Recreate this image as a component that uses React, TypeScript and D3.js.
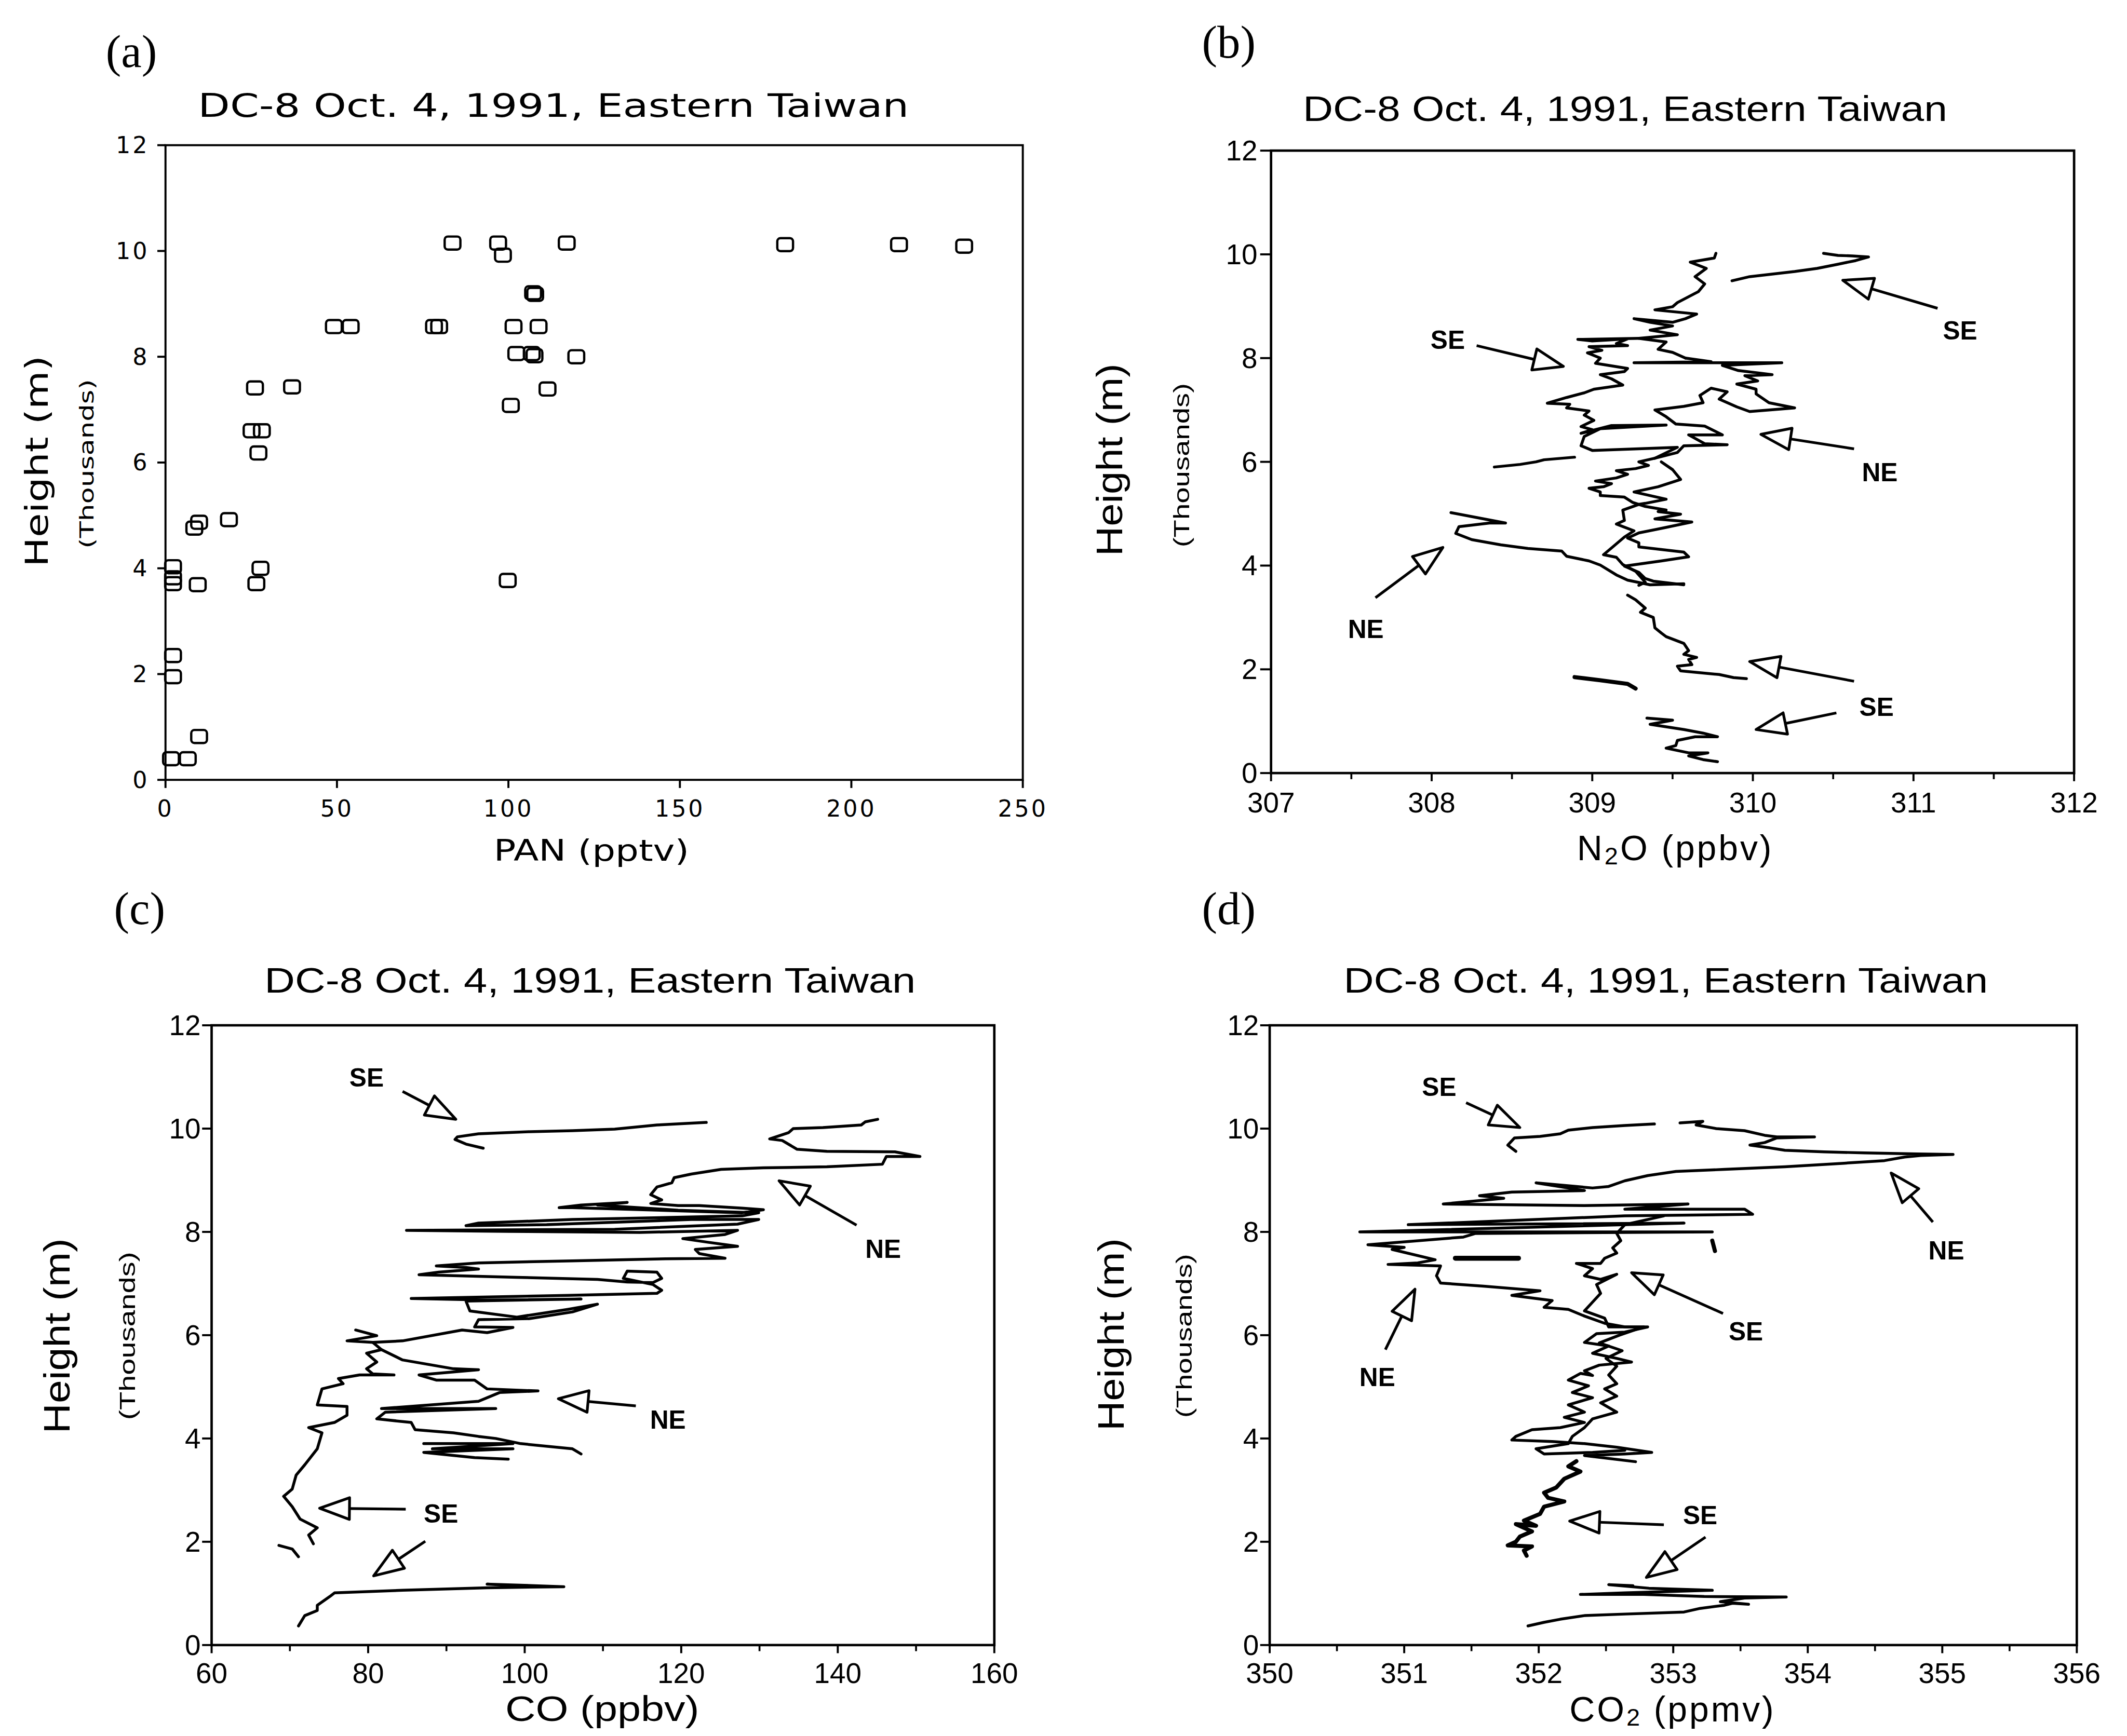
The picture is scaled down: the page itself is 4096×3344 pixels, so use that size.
import React from 'react';
import * as d3 from 'd3';

type P = [number, number];

// ---------- shared text / ticks ----------
const titleText = 'DC-8 Oct. 4, 1991, Eastern Taiwan';
const heightTicks = [0, 2, 4, 6, 8, 10, 12];
const panTicks = [0, 50, 100, 150, 200, 250];
const n2oTicks = [307, 308, 309, 310, 311, 312];
const n2oMinor = [307.5, 308.5, 309.5, 310.5, 311.5];
const coTicks = [60, 80, 100, 120, 140, 160];
const coMinor = [70, 90, 110, 130, 150];
const co2Ticks = [350, 351, 352, 353, 354, 355, 356];
const co2Minor = [350.5, 351.5, 352.5, 353.5, 354.5, 355.5];

// ---------- (a) PAN ----------
const panValues = [83.7, 97.0, 98.4, 117, 180.7, 213.9, 232.9, 107.2, 107.8, 49.1, 54.0, 78.3, 79.8, 101.5, 108.8, 102.3, 107.6, 106.8, 119.8, 26.1, 36.9, 111.4, 100.7, 25.1, 28.1, 27.1, 18.5, 9.8, 8.4, 2.2, 2.2, 2.2, 9.4, 27.7, 26.5, 99.8, 2.2, 2.2, 9.8, 1.6, 6.5];
const panHeights = [10.15, 10.15, 9.92, 10.15, 10.12, 10.12, 10.09, 9.21, 9.18, 8.57, 8.57, 8.57, 8.57, 8.57, 8.57, 8.06, 8.02, 8.06, 8.0, 7.41, 7.43, 7.39, 7.08, 6.6, 6.6, 6.18, 4.92, 4.87, 4.76, 4.03, 3.82, 3.71, 3.69, 4.0, 3.71, 3.77, 2.35, 1.95, 0.82, 0.4, 0.4];

// ---------- (b) N2O ----------
const n2oSETop: P[] = [[309.87, 9.49], [309.98, 9.57], [310.12, 9.62], [310.26, 9.67], [310.40, 9.73], [310.53, 9.81], [310.64, 9.88], [310.72, 9.95], [310.62, 9.97], [310.53, 9.98], [310.44, 10.02]];
const n2oUpper: P[] = [[309.77, 10.02], [309.76, 9.93], [309.61, 9.85], [309.71, 9.73], [309.64, 9.57], [309.70, 9.43], [309.66, 9.28], [309.53, 9.07], [309.50, 8.99], [309.39, 8.93], [309.65, 8.85], [309.58, 8.76], [309.50, 8.69], [309.26, 8.76], [309.36, 8.69], [309.50, 8.62], [309.36, 8.54], [309.53, 8.45], [309.29, 8.38], [309.46, 8.31], [309.41, 8.17], [309.50, 8.11], [309.58, 8.00]];
const n2oNERight: P[] = [[309.58, 8.00], [309.74, 7.93], [309.26, 7.91], [310.18, 7.91], [309.81, 7.86], [309.91, 7.76], [310.12, 7.68], [309.95, 7.66], [310.03, 7.56], [309.90, 7.50], [310.02, 7.40], [310.02, 7.31], [310.10, 7.14], [310.26, 7.04], [309.98, 6.97], [309.90, 7.06], [309.79, 7.21], [309.84, 7.35], [309.74, 7.42], [309.67, 7.28], [309.69, 7.14], [309.57, 7.07], [309.39, 7.00], [309.46, 6.87], [309.52, 6.73], [309.70, 6.69], [309.81, 6.52], [309.60, 6.52], [309.70, 6.35], [309.84, 6.33], [309.57, 6.31], [309.53, 6.18], [309.39, 6.07]];
const n2oSELeft: P[] = [[309.29, 8.38], [308.91, 8.36], [309.00, 8.33], [309.22, 8.37], [309.15, 8.28], [309.22, 8.24], [308.98, 8.22], [309.06, 8.15], [308.97, 8.10], [309.05, 8.00], [309.02, 7.90], [309.22, 7.80], [309.20, 7.74], [309.05, 7.68], [309.12, 7.60], [309.19, 7.48], [309.01, 7.40], [308.95, 7.33], [308.84, 7.24], [308.72, 7.13], [308.86, 7.11], [308.84, 7.04], [308.98, 6.98], [308.95, 6.90], [309.01, 6.80], [308.93, 6.68], [309.00, 6.62], [308.93, 6.55], [309.12, 6.70], [309.46, 6.71], [309.05, 6.64], [308.95, 6.49], [308.93, 6.31], [309.00, 6.22], [309.53, 6.28], [309.39, 6.07]];
const n2oMidA: P[] = [[309.39, 6.07], [309.29, 6.00], [309.35, 5.93], [309.27, 5.87], [309.15, 5.83], [309.22, 5.76], [309.15, 5.69], [309.02, 5.63], [309.12, 5.58], [309.07, 5.52], [308.98, 5.49], [309.05, 5.42], [309.05, 5.35], [309.20, 5.32], [309.25, 5.22], [309.33, 5.14], [309.46, 5.07], [309.41, 5.04], [309.55, 4.99], [309.39, 4.90], [309.62, 4.84], [309.45, 4.73], [309.29, 4.63], [309.22, 4.53], [309.29, 4.44], [309.29, 4.36], [309.57, 4.26], [309.60, 4.17], [309.43, 4.09], [309.20, 3.99], [309.29, 3.87], [309.33, 3.75], [309.38, 3.70], [309.57, 3.63]];
const n2oMidB: P[] = [[309.43, 6.00], [309.50, 5.85], [309.55, 5.66], [309.41, 5.52], [309.26, 5.42], [309.46, 5.28], [309.33, 5.20], [309.29, 5.18], [309.19, 5.07], [309.20, 4.87], [309.15, 4.80], [309.26, 4.67], [309.20, 4.55], [309.12, 4.34], [309.07, 4.21], [309.15, 4.16], [309.19, 4.02], [309.27, 3.89], [309.33, 3.68], [309.29, 3.62]];
const n2oNEShort: P[] = [[308.39, 5.90], [308.55, 5.95], [308.65, 6.00], [308.70, 6.04], [308.89, 6.09]];
const n2oNELow: P[] = [[308.12, 5.02], [308.46, 4.82], [308.36, 4.82], [308.17, 4.75], [308.15, 4.62], [308.25, 4.50], [308.43, 4.40], [308.60, 4.33], [308.81, 4.28], [308.84, 4.18], [308.98, 4.09], [309.05, 4.01], [309.15, 3.82], [309.22, 3.72], [309.36, 3.63], [309.57, 3.65]];
const n2oLow: P[] = [[309.22, 3.43], [309.27, 3.34], [309.33, 3.18], [309.30, 3.10], [309.38, 3.00], [309.39, 2.80], [309.43, 2.70], [309.46, 2.63], [309.57, 2.50], [309.60, 2.36], [309.57, 2.29], [309.65, 2.23], [309.60, 2.19], [309.62, 2.09], [309.53, 2.06], [309.55, 1.97], [309.79, 1.90], [309.88, 1.84], [309.96, 1.82]];
const n2oDash: P[] = [[308.89, 1.85], [309.05, 1.79], [309.22, 1.72], [309.27, 1.63]];
const n2oBottom: P[] = [[309.34, 1.06], [309.50, 1.02], [309.36, 0.94], [309.57, 0.84], [309.69, 0.77], [309.78, 0.70], [309.64, 0.70], [309.53, 0.63], [309.52, 0.53], [309.46, 0.48], [309.60, 0.39], [309.72, 0.39], [309.60, 0.33], [309.69, 0.26], [309.78, 0.22]];

// ---------- (c) CO ----------
const coSETop: P[] = [[123.2, 10.12], [116.9, 10.07], [111.5, 9.99], [106.1, 9.96], [100.6, 9.94], [94.1, 9.90], [91.4, 9.84], [91.1, 9.79], [92.5, 9.70], [94.7, 9.62]];
const coNE: P[] = [[145.1, 10.18], [143.5, 10.13], [143.0, 10.07], [138.1, 10.02], [134.3, 10.0], [133.7, 9.92], [131.3, 9.80], [132.9, 9.77], [134.8, 9.60], [138.6, 9.56], [147.3, 9.55], [150.5, 9.46], [146.2, 9.46], [145.7, 9.31], [138.6, 9.26], [130.5, 9.24], [125.1, 9.21], [121.3, 9.12], [119.1, 9.05], [118.8, 8.95], [116.9, 8.87], [116.1, 8.72], [117.5, 8.62], [116.1, 8.55], [119.6, 8.51], [122.3, 8.51], [127.8, 8.46], [130.5, 8.43], [127.8, 8.37], [106.1, 8.47], [104.4, 8.47], [107.2, 8.52], [113.1, 8.57], [109.3, 8.52], [119.6, 8.42], [129.9, 8.37], [127.8, 8.31], [106.1, 8.24], [94.1, 8.17], [92.5, 8.12], [102.8, 8.14], [121.3, 8.24], [129.9, 8.24], [127.2, 8.15], [111.5, 8.05], [84.9, 8.03], [97.9, 8.01], [114.7, 7.99], [127.2, 8.03], [125.6, 7.95], [120.2, 7.87], [123.4, 7.80], [127.2, 7.72], [121.8, 7.66], [122.3, 7.58], [125.6, 7.49], [118.0, 7.48], [106.1, 7.44], [94.1, 7.40], [88.7, 7.34], [92.5, 7.31], [94.1, 7.28], [89.0, 7.22], [86.5, 7.17], [99.0, 7.12], [109.3, 7.08], [113.1, 7.03], [116.4, 7.02], [117.5, 7.10], [116.9, 7.22], [113.1, 7.24], [112.6, 7.10], [116.4, 6.98], [117.5, 6.87], [116.9, 6.81], [105.5, 6.77], [85.5, 6.71], [95.2, 6.68], [107.2, 6.70], [92.5, 6.66], [93.0, 6.47], [99.0, 6.35], [105.5, 6.50], [109.3, 6.60], [106.1, 6.45], [100.6, 6.32], [94.1, 6.30], [93.6, 6.16], [98.5, 6.15], [95.2, 6.05], [92.0, 6.10], [84.4, 5.89], [80.6, 5.86], [77.3, 5.89], [81.1, 5.99], [78.4, 6.10]];
const coNEMid: P[] = [[81.7, 5.72], [84.4, 5.52], [90.9, 5.35], [94.1, 5.33], [86.5, 5.23], [88.7, 5.13], [93.6, 5.13], [95.2, 4.96], [101.7, 4.92], [96.8, 4.89], [94.1, 4.72], [81.7, 4.58], [96.3, 4.58], [82.2, 4.51], [81.1, 4.38], [85.5, 4.31], [86.0, 4.17], [90.9, 4.11], [94.1, 4.04], [96.3, 4.00], [99.5, 3.90], [106.1, 3.80], [107.2, 3.70]];
const coNEMid2: P[] = [[87.1, 3.90], [98.5, 3.90], [88.2, 3.80], [98.5, 3.80], [87.1, 3.73], [93.6, 3.63], [97.9, 3.60]];
const coLeft: P[] = [[80.6, 5.86], [81.7, 5.72], [79.8, 5.65], [81.1, 5.48], [79.8, 5.35], [80.6, 5.25], [83.3, 5.23], [78.9, 5.23], [76.2, 5.16], [76.8, 5.06], [74.1, 4.96], [73.5, 4.65], [77.3, 4.62], [77.3, 4.45], [75.7, 4.31], [72.4, 4.21], [74.1, 4.11], [73.5, 3.80], [71.9, 3.49], [70.8, 3.29], [70.3, 3.02], [69.2, 2.88], [70.3, 2.68], [71.3, 2.44], [73.5, 2.27], [72.4, 2.13], [73.0, 1.96]];
const coLeftBit: P[] = [[68.6, 1.93], [70.3, 1.86], [71.1, 1.71]];
const coSEBottom: P[] = [[71.1, 0.37], [71.9, 0.57], [73.5, 0.67], [73.5, 0.77], [75.1, 0.94], [75.7, 1.01], [84.4, 1.06], [95.2, 1.11], [105.0, 1.13], [95.2, 1.18], [99.5, 1.15]];

// ---------- (d) CO2 ----------
const co2SETop: P[] = [[351.83, 9.56], [351.77, 9.68], [351.82, 9.82], [352.01, 9.85], [352.16, 9.90], [352.22, 9.97], [352.40, 10.02], [352.64, 10.06], [352.86, 10.09]];
const co2NE: P[] = [[353.05, 10.11], [353.22, 10.14], [353.17, 10.07], [353.32, 10.0], [353.53, 9.96], [353.68, 9.87], [353.77, 9.84], [354.05, 9.84], [353.77, 9.82], [353.68, 9.73], [353.57, 9.68], [353.71, 9.63], [353.83, 9.58], [354.12, 9.55], [354.42, 9.53], [354.81, 9.51], [355.08, 9.50], [354.84, 9.48], [354.72, 9.45], [354.57, 9.38], [354.27, 9.33], [353.83, 9.26], [353.38, 9.21], [353.02, 9.17], [352.81, 9.09], [352.64, 8.99], [352.52, 8.88], [352.40, 8.85], [351.98, 8.95], [352.34, 8.80], [351.80, 8.77], [351.56, 8.70], [351.74, 8.65], [351.29, 8.54], [352.34, 8.51], [353.11, 8.54], [352.64, 8.44], [353.53, 8.44], [353.59, 8.34], [352.64, 8.31], [351.03, 8.14], [353.08, 8.17], [350.67, 8.0], [353.29, 8.0], [351.53, 7.97], [351.44, 7.90], [350.73, 7.75], [351.00, 7.70], [350.91, 7.66], [351.23, 7.46], [351.10, 7.40], [350.88, 7.37], [351.27, 7.34], [351.24, 7.15], [351.27, 7.01], [351.59, 6.95], [352.01, 6.86], [351.80, 6.77], [352.10, 6.67], [352.04, 6.54], [352.22, 6.50], [352.34, 6.37], [352.49, 6.23], [352.64, 6.16], [352.78, 6.16]];
const co2Bar: P[] = [[351.38, 7.49], [351.85, 7.49]];
const co2Mark: P[] = [[353.29, 7.83], [353.31, 7.63]];
const co2SEMid: P[] = [[352.93, 8.31], [352.81, 8.24], [352.64, 8.14], [352.58, 7.97], [352.61, 7.83], [352.55, 7.69], [352.58, 7.59], [352.49, 7.49], [352.46, 7.39], [352.28, 7.39], [352.40, 7.29], [352.34, 7.15], [352.46, 7.08], [352.58, 7.18], [352.43, 6.98], [352.46, 6.81], [352.40, 6.64], [352.34, 6.47], [352.49, 6.33], [352.52, 6.16], [352.81, 6.16], [352.64, 6.06], [352.43, 6.03], [352.34, 5.86], [352.52, 5.79], [352.40, 5.65], [352.58, 5.55], [352.69, 5.48], [352.45, 5.42], [352.34, 5.31], [352.40, 5.22], [352.31, 5.26], [352.22, 5.13], [352.37, 5.02], [352.25, 4.89], [352.40, 4.79], [352.22, 4.65], [352.34, 4.51], [352.19, 4.41], [352.34, 4.31], [352.16, 4.21], [351.95, 4.17], [351.83, 4.04], [351.80, 3.97], [352.10, 3.94], [352.34, 3.90], [352.58, 3.83], [352.84, 3.73], [352.64, 3.70], [352.34, 3.67], [352.72, 3.55]];
const co2MidB: P[] = [[352.78, 6.16], [352.60, 6.00], [352.45, 5.85], [352.62, 5.70], [352.50, 5.55], [352.58, 5.40], [352.52, 5.23], [352.58, 5.06], [352.49, 4.96], [352.58, 4.82], [352.46, 4.69], [352.58, 4.51], [352.40, 4.38], [352.34, 4.21], [352.25, 4.04], [352.22, 3.90], [351.98, 3.80], [352.04, 3.70], [352.40, 3.73], [352.64, 3.77]];
const co2SELow: P[] = [[352.28, 3.56], [352.22, 3.46], [352.31, 3.36], [352.19, 3.22], [352.13, 3.05], [352.04, 2.95], [352.07, 2.85], [352.19, 2.78], [352.04, 2.68], [352.01, 2.54], [351.89, 2.41], [351.98, 2.31], [351.83, 2.34], [351.95, 2.20], [351.86, 2.10], [351.83, 2.00], [351.77, 1.93], [351.95, 1.91], [351.89, 1.83], [351.91, 1.73]];
const co2SEBottom: P[] = [[351.92, 0.37], [352.04, 0.44], [352.16, 0.50], [352.34, 0.57], [352.64, 0.60], [353.08, 0.64], [353.20, 0.71], [353.38, 0.77], [353.44, 0.81], [353.56, 0.79], [353.35, 0.84], [353.53, 0.91], [353.84, 0.93], [353.23, 0.94], [352.78, 0.98], [352.31, 0.98], [352.64, 1.01], [353.29, 1.06], [352.82, 1.10], [352.52, 1.17], [352.70, 1.15]];

// ---------- annotations (tip, tail) and labels, in data units ----------
const n2oArrows: [P, P][] = [[[310.56, 9.50], [311.15, 8.96]], [[308.82, 7.84], [308.28, 8.24]], [[310.05, 6.53], [310.63, 6.25]], [[308.07, 4.35], [307.65, 3.38]], [[309.98, 2.15], [310.63, 1.77]], [[310.02, 0.84], [310.52, 1.16]]];
const n2oLabels: [string, number, number][] = [['SE', 311.29, 8.53], ['SE', 308.10, 8.35], ['NE', 310.79, 5.80], ['NE', 307.59, 2.77], ['SE', 310.77, 1.27]];
const coArrows: [P, P][] = [[[91.2, 10.18], [84.4, 10.72]], [[132.5, 8.99], [142.4, 8.13]], [[104.3, 4.77], [114.2, 4.63]], [[73.8, 2.65], [84.8, 2.63]], [[80.7, 1.34], [87.3, 2.01]]];
const coLabels: [string, number, number][] = [['SE', 79.8, 10.98], ['NE', 145.8, 7.67], ['NE', 118.3, 4.36], ['SE', 89.3, 2.54]];
const co2Arrows: [P, P][] = [[[351.86, 10.02], [351.46, 10.50]], [[354.62, 9.14], [354.93, 8.19]], [[351.08, 6.89], [350.86, 5.72]], [[352.69, 7.21], [353.37, 6.42]], [[352.23, 2.40], [352.93, 2.33]], [[352.80, 1.31], [353.24, 2.09]]];
const co2Labels: [string, number, number][] = [['SE', 351.26, 10.80], ['NE', 355.03, 7.64], ['NE', 350.80, 5.18], ['SE', 353.54, 6.07], ['SE', 353.20, 2.51]];

// ---------- rendering ----------
const PLOT = "'DejaVu Sans', 'Liberation Sans', sans-serif";
const HELV = "'Liberation Sans', Arial, Helvetica, sans-serif";
const SERIF = "'Liberation Serif', 'Times New Roman', serif";

interface Box { l: number; r: number; t: number; b: number }
interface LineSpec { pts: P[]; w: number }

function Arrow({ tip, tail }: { tip: P; tail: P }) {
  const dx = tip[0] - tail[0];
  const dy = tip[1] - tail[1];
  const len = Math.hypot(dx, dy) || 1;
  const ux = dx / len, uy = dy / len;
  const L = 22, hw = 8;
  const bx = tip[0] - ux * L, by = tip[1] - uy * L;
  const nx = -uy, ny = ux;
  const tri = `M${tip[0]},${tip[1]}L${bx + nx * hw},${by + ny * hw}L${bx - nx * hw},${by - ny * hw}Z`;
  return (
    <g>
      <line x1={tail[0]} y1={tail[1]} x2={bx} y2={by} stroke="#000" strokeWidth={2} />
      <path d={tri} fill="#fff" stroke="#000" strokeWidth={2} strokeLinejoin="round" />
    </g>
  );
}

interface PanelProps {
  box: Box;
  xDomain: [number, number];
  xTicks: number[];
  xMinor: number[];
  font: string;
  tickFont: number;
  yLabelGap: number;
  yTickLen: number;
  xLabelDy: number;
  frameW: number;
  lines: LineSpec[];
  arrows: [P, P][];
  labels: [string, number, number][];
  squares?: P[];
  letterSpacing?: number;
}

function Panel(p: PanelProps) {
  const { box } = p;
  const x = d3.scaleLinear().domain(p.xDomain).range([box.l, box.r]);
  const y = d3.scaleLinear().domain([0, 12]).range([box.b, box.t]);
  const line = d3.line<P>().x(d => x(d[0])).y(d => y(d[1]));
  return (
    <g>
      <rect x={box.l} y={box.t} width={box.r - box.l} height={box.b - box.t} fill="none" stroke="#000" strokeWidth={p.frameW} />
      {heightTicks.map(t => (
        <g key={'y' + t}>
          <line x1={box.l - p.yTickLen} x2={box.l} y1={y(t)} y2={y(t)} stroke="#000" strokeWidth={1.5} />
          <text x={box.l - p.yLabelGap} y={y(t)} textAnchor="end" dominantBaseline="central" fontFamily={p.font} fontSize={p.tickFont} letterSpacing={p.letterSpacing ?? 0}>{t}</text>
        </g>
      ))}
      {p.xTicks.map(t => (
        <g key={'x' + t}>
          <line x1={x(t)} x2={x(t)} y1={box.b} y2={box.b + 6} stroke="#000" strokeWidth={1.5} />
          <text x={x(t)} y={box.b + p.xLabelDy} textAnchor="middle" fontFamily={p.font} fontSize={p.tickFont} letterSpacing={p.letterSpacing ?? 0}>{t}</text>
        </g>
      ))}
      {p.xMinor.map(t => (
        <line key={'m' + t} x1={x(t)} x2={x(t)} y1={box.b} y2={box.b + 4.5} stroke="#000" strokeWidth={1.4} />
      ))}
      {p.lines.map((l, i) => (
        <path key={'l' + i} d={line(l.pts) || ''} fill="none" stroke="#000" strokeWidth={l.w} strokeLinejoin="round" strokeLinecap="round" />
      ))}
      {(p.squares || []).map((s, i) => (
        <rect key={'s' + i} x={x(s[0]) - 5.8} y={y(s[1]) - 4.8} width={11.6} height={9.6} rx={2.4} fill="none" stroke="#000" strokeWidth={1.7} />
      ))}
      {p.arrows.map((a, i) => (
        <Arrow key={'a' + i} tip={[x(a[0][0]), y(a[0][1])]} tail={[x(a[1][0]), y(a[1][1])]} />
      ))}
      {p.labels.map((l, i) => (
        <text key={'t' + i} x={x(l[1])} y={y(l[2])} textAnchor="middle" dominantBaseline="central" fontFamily={HELV} fontSize={19} fontWeight="bold">{l[0]}</text>
      ))}
    </g>
  );
}

function RotText({ x, y, len, size, font, children }: { x: number; y: number; len: number; size: number; font: string; children: React.ReactNode }) {
  return (
    <text transform={`translate(${x},${y}) rotate(-90)`} textAnchor="middle" dominantBaseline="central" fontFamily={font} fontSize={size} textLength={len} lengthAdjust="spacingAndGlyphs">{children}</text>
  );
}

export default function App() {
  const boxA: Box = { l: 122, r: 754, t: 107, b: 575 };
  const boxB: Box = { l: 937, r: 1529, t: 111, b: 570 };
  const boxC: Box = { l: 156, r: 733, t: 756, b: 1213 };
  const boxD: Box = { l: 936, r: 1531, t: 756, b: 1213 };

  const panPts: P[] = panValues.map((v, i) => [v, panHeights[i]]);
  const W = 2.1;

  const n2oLines: LineSpec[] = [
    { pts: n2oSETop, w: W }, { pts: n2oUpper, w: W }, { pts: n2oNERight, w: W }, { pts: n2oSELeft, w: W },
    { pts: n2oMidA, w: W }, { pts: n2oMidB, w: W }, { pts: n2oNEShort, w: W }, { pts: n2oNELow, w: W },
    { pts: n2oLow, w: W }, { pts: n2oDash, w: 3 }, { pts: n2oBottom, w: W },
  ];
  const coLines: LineSpec[] = [
    { pts: coSETop, w: W }, { pts: coNE, w: W }, { pts: coNEMid, w: W }, { pts: coNEMid2, w: W },
    { pts: coLeft, w: W }, { pts: coLeftBit, w: W }, { pts: coSEBottom, w: W },
  ];
  const co2Lines: LineSpec[] = [
    { pts: co2SETop, w: W }, { pts: co2NE, w: W }, { pts: co2Bar, w: 3.6 }, { pts: co2Mark, w: 3 },
    { pts: co2SEMid, w: W }, { pts: co2MidB, w: W }, { pts: co2SELow, w: 3 }, { pts: co2SEBottom, w: W },
  ];

  return (
    <svg width={4096} height={3344} viewBox="0 0 1568 1280" style={{ position: 'absolute', left: 0, top: 0, background: '#fff' }}>
      <rect x={0} y={0} width={1568} height={1280} fill="#fff" />

      {/* panel letters */}
      <text x={78} y={38} dominantBaseline="central" fontFamily={SERIF} fontSize={34}>(a)</text>
      <text x={886} y={31} dominantBaseline="central" fontFamily={SERIF} fontSize={34}>(b)</text>
      <text x={84} y={670} dominantBaseline="central" fontFamily={SERIF} fontSize={34}>(c)</text>
      <text x={886} y={670} dominantBaseline="central" fontFamily={SERIF} fontSize={34}>(d)</text>

      {/* titles */}
      <text x={408} y={78} textAnchor="middle" dominantBaseline="central" fontFamily={PLOT} fontSize={24} textLength={524} lengthAdjust="spacingAndGlyphs">{titleText}</text>
      <text x={1198} y={80} textAnchor="middle" dominantBaseline="central" fontFamily={HELV} fontSize={26} textLength={475} lengthAdjust="spacingAndGlyphs">{titleText}</text>
      <text x={435} y={723} textAnchor="middle" dominantBaseline="central" fontFamily={HELV} fontSize={26} textLength={480} lengthAdjust="spacingAndGlyphs">{titleText}</text>
      <text x={1228} y={723} textAnchor="middle" dominantBaseline="central" fontFamily={HELV} fontSize={26} textLength={475} lengthAdjust="spacingAndGlyphs">{titleText}</text>

      {/* y titles */}
      <RotText x={27} y={340} len={156} size={23} font={PLOT}>Height (m)</RotText>
      <RotText x={64} y={342} len={125} size={14} font={PLOT}>(Thousands)</RotText>
      <RotText x={818} y={339} len={142} size={27} font={HELV}>Height (m)</RotText>
      <RotText x={871} y={343} len={121} size={16} font={HELV}>(Thousands)</RotText>
      <RotText x={42} y={985} len={144} size={27} font={HELV}>Height (m)</RotText>
      <RotText x={94} y={985} len={124} size={16} font={HELV}>(Thousands)</RotText>
      <RotText x={819} y={984} len={142} size={27} font={HELV}>Height (m)</RotText>
      <RotText x={873} y={985} len={121} size={16} font={HELV}>(Thousands)</RotText>

      {/* x titles */}
      <text x={436} y={627} textAnchor="middle" dominantBaseline="central" fontFamily={PLOT} fontSize={22} textLength={144} lengthAdjust="spacingAndGlyphs">PAN (pptv)</text>
      <text x={1235} y={625} textAnchor="middle" dominantBaseline="central" fontFamily={HELV} fontSize={26} letterSpacing={1.5}>
        <tspan>N</tspan><tspan fontSize={18} dy={6}>2</tspan><tspan dy={-6}>O (ppbv)</tspan>
      </text>
      <text x={444} y={1260} textAnchor="middle" dominantBaseline="central" fontFamily={HELV} fontSize={26} textLength={143} lengthAdjust="spacingAndGlyphs">CO (ppbv)</text>
      <text x={1233} y={1260} textAnchor="middle" dominantBaseline="central" fontFamily={HELV} fontSize={26} letterSpacing={1.5}>
        <tspan>CO</tspan><tspan fontSize={18} dy={6}>2</tspan><tspan dy={-6}>{'\u00a0(ppmv)'}</tspan>
      </text>

      <Panel box={boxA} xDomain={[0, 250]} xTicks={panTicks} xMinor={[]} font={PLOT} tickFont={17} letterSpacing={1.5}
        yLabelGap={12} yTickLen={6} xLabelDy={27} frameW={1.5} lines={[]} arrows={[]} labels={[]} squares={panPts} />
      <Panel box={boxB} xDomain={[307, 312]} xTicks={n2oTicks} xMinor={n2oMinor} font={HELV} tickFont={21}
        yLabelGap={10} yTickLen={8} xLabelDy={29} frameW={1.8} lines={n2oLines} arrows={n2oArrows} labels={n2oLabels} />
      <Panel box={boxC} xDomain={[60, 160]} xTicks={coTicks} xMinor={coMinor} font={HELV} tickFont={21}
        yLabelGap={8} yTickLen={7} xLabelDy={28} frameW={1.8} lines={coLines} arrows={coArrows} labels={coLabels} />
      <Panel box={boxD} xDomain={[350, 356]} xTicks={co2Ticks} xMinor={co2Minor} font={HELV} tickFont={21}
        yLabelGap={8} yTickLen={7} xLabelDy={28} frameW={1.8} lines={co2Lines} arrows={co2Arrows} labels={co2Labels} />
    </svg>
  );
}
